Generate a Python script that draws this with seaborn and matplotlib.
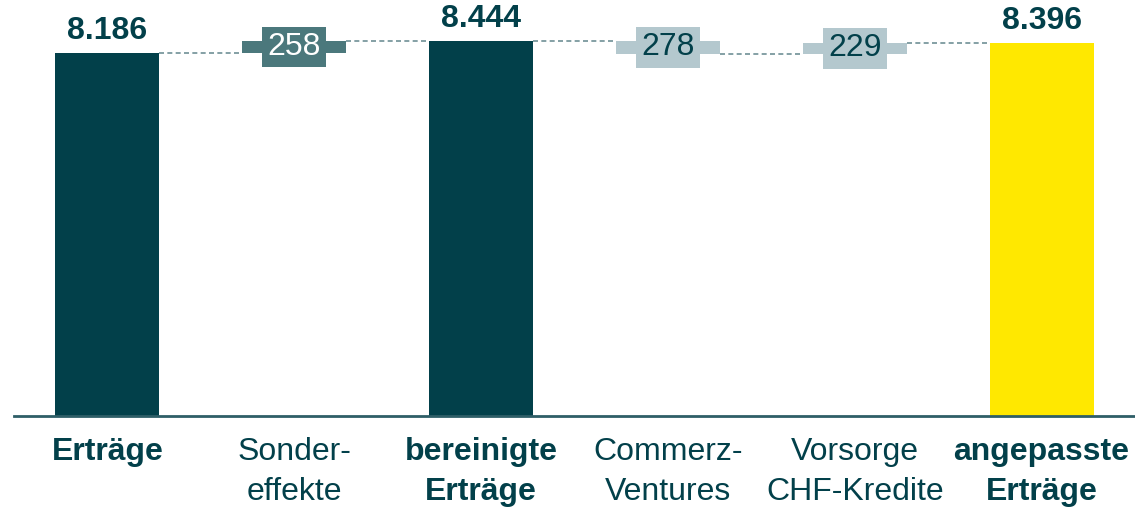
import matplotlib
matplotlib.use("Agg")
import matplotlib.pyplot as plt
import seaborn as sns

# ---- data ----
categories = ["Erträge", "Sonder-\neffekte", "bereinigte\nErträge",
              "Commerz-\nVentures", "Vorsorge\nCHF-Kredite", "angepasste\nErträge"]
is_total = [True, False, True, False, False, True]
values = [8186, 258, 8444, -278, 229, 8396]
value_labels = ["8.186", "258", "8.444", "278", "229", "8.396"]

# ---- style ----
DARK = "#02404A"
MID = "#4B787C"
LIGHT = "#B4C8CE"
YELLOW = "#FFE800"
bar_colors = [DARK, MID, DARK, LIGHT, LIGHT, YELLOW]
label_colors = [DARK, "white", DARK, DARK, DARK, DARK]
CONNECT = "#6F9096"
BAR_W = 0.556
FS = 23

sns.set_theme(style="white")
plt.rcParams["font.family"] = ["Liberation Sans", "DejaVu Sans"]

fig = plt.figure(figsize=(11.35, 5.08), dpi=100)
ax = fig.add_axes([0.0123, 0.1817, 0.9877, 0.8183])

# totals via seaborn
tot_cats = [c for c, t in zip(categories, is_total) if t]
tot_vals = [v for v, t in zip(values, is_total) if t]
tot_cols = {c: col for c, col, t in zip(categories, bar_colors, is_total) if t}
sns.barplot(x=tot_cats, y=tot_vals, order=categories, hue=tot_cats,
            palette=tot_cols, width=BAR_W, legend=False, ax=ax,
            saturation=1, edgecolor="none", linewidth=0)

# waterfall levels
level = 0
ends = []
for i, (v, t) in enumerate(zip(values, is_total)):
    if t:
        level = v
        ax.annotate(value_labels[i], (i, v), xytext=(0, 10),
                    textcoords="offset points", ha="center", va="baseline",
                    fontsize=FS, fontweight="bold", color=DARK)
    else:
        bottom = level
        ax.bar(i, v, bottom=bottom, width=BAR_W, color=bar_colors[i],
               linewidth=0, zorder=3)
        ax.text(i, bottom + v / 2, value_labels[i], ha="center", va="center",
                fontsize=FS, color=label_colors[i], zorder=4,
                bbox=dict(boxstyle="square,pad=0.16", fc=bar_colors[i], ec="none"))
        level = bottom + v
    ends.append(level)

# dashed connectors
for i in range(len(categories) - 1):
    ax.plot([i + BAR_W / 2, i + 1 - BAR_W / 2], [ends[i], ends[i]],
            color=CONNECT, lw=1.2, linestyle=(0, (3, 2)), zorder=2)

ax.set_xlim(-0.5, len(categories) - 0.5)
ax.set_ylim(0, 9374)
ax.set_xlabel("")
ax.set_ylabel("")
ax.set_yticks([])
for s in ["top", "right", "left"]:
    ax.spines[s].set_visible(False)
ax.spines["bottom"].set_color("#2E5E67")
ax.spines["bottom"].set_linewidth(2)
ax.tick_params(axis="x", length=0, pad=15)
ax.set_xticks(range(len(categories)))
ax.set_xticklabels(categories, fontsize=FS, color=DARK, linespacing=1.45)
for lbl, t in zip(ax.get_xticklabels(), is_total):
    lbl.set_fontweight("bold" if t else "normal")
ax.grid(False)

fig.savefig("out.png", dpi=100)
